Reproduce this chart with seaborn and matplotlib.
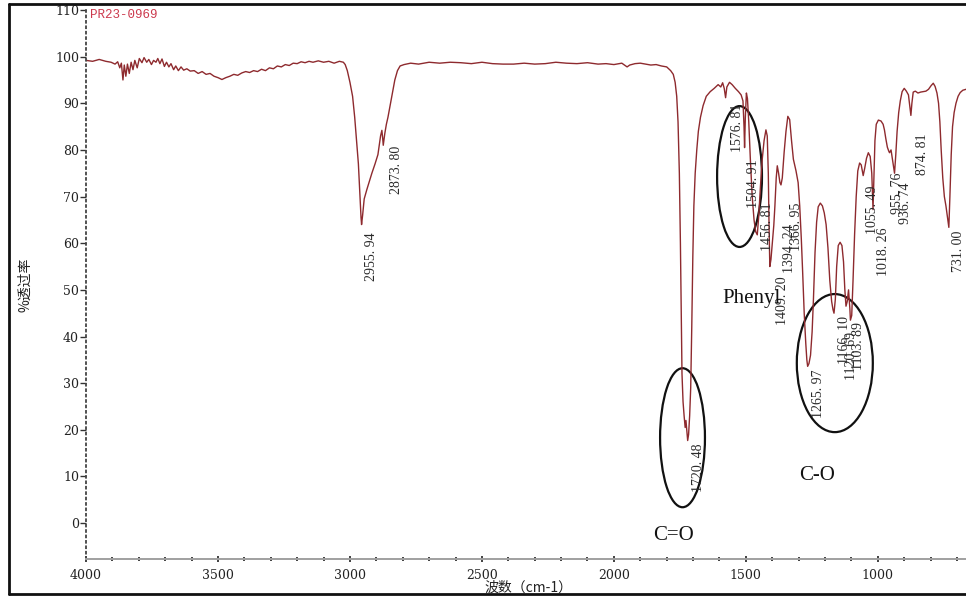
import matplotlib
matplotlib.use("Agg")
import matplotlib.pyplot as plt
from matplotlib.patches import Ellipse
from matplotlib.lines import Line2D
from matplotlib.ticker import MultipleLocator
import seaborn as sns
import pandas as pd

# ---- FTIR spectrum of sample PR23-0969 (wavenumber in cm-1, %T) ----
wavenumber = [
    4000, 3975, 3950, 3925, 3905, 3890, 3880, 3872, 3866, 3860, 3855, 3849,
    3843, 3836, 3829, 3822, 3815, 3806, 3798, 3788, 3780, 3770, 3762, 3752,
    3744, 3735, 3728, 3720, 3712, 3703, 3695, 3686, 3678, 3668, 3660, 3650,
    3640, 3630, 3618, 3605, 3590, 3575, 3560, 3545, 3530, 3515, 3500, 3485,
    3470, 3455, 3440, 3425, 3410, 3395, 3380, 3365, 3350, 3335, 3320, 3305,
    3290, 3275, 3260, 3245, 3230, 3215, 3200, 3185, 3170, 3155, 3140, 3120,
    3100, 3080, 3060, 3040, 3025, 3018, 3010, 3000, 2990, 2982, 2975, 2968,
    2962, 2958, 2955.94, 2952, 2946, 2936, 2925, 2917, 2905, 2894, 2884, 2879,
    2876, 2873.80, 2868, 2862, 2856, 2848, 2840, 2830, 2820, 2810, 2795, 2770,
    2740, 2700, 2660, 2620, 2580, 2540, 2500, 2460, 2420, 2380, 2340, 2300,
    2260, 2220, 2180, 2140, 2100, 2060, 2030, 2000, 1970, 1950, 1940, 1920,
    1900, 1880, 1860, 1840, 1820, 1800, 1785, 1775, 1768, 1762, 1757, 1752,
    1748, 1745, 1742, 1738, 1734, 1730, 1727, 1723, 1720.48, 1717, 1713, 1709,
    1705, 1701, 1697, 1692, 1686, 1680, 1672, 1662, 1650, 1635, 1620, 1605,
    1595, 1588, 1582, 1576.81, 1572, 1562, 1552, 1540, 1528, 1518, 1511, 1507,
    1504.91, 1502, 1498, 1494, 1489, 1483, 1476, 1469, 1463, 1456.81, 1451,
    1445, 1438, 1431, 1424, 1419, 1415, 1412, 1409.20, 1405, 1400, 1394.24,
    1390, 1385, 1381, 1376, 1371, 1366.95, 1362, 1355, 1348, 1341, 1334, 1327,
    1320, 1310, 1302, 1296, 1290, 1285, 1279, 1273, 1269, 1265.97, 1261, 1255,
    1249, 1244, 1238, 1232, 1226, 1218, 1210, 1203, 1196, 1189, 1182, 1175,
    1170, 1166.10, 1161, 1156, 1150, 1143, 1136, 1130, 1125, 1120.69, 1116,
    1111, 1106, 1103.89, 1099, 1094, 1088, 1082, 1076, 1069, 1063, 1058,
    1055.49, 1050, 1043, 1036, 1029, 1023, 1018.26, 1015, 1011, 1006, 998,
    988, 980, 975, 970, 964, 959, 955.76, 950, 944, 936.74, 932, 927, 921,
    915, 908, 900, 892, 884, 878, 874.81, 871, 866, 858, 848, 838, 828, 818,
    808, 798, 790, 783, 776, 770, 765, 760, 754, 748, 742, 736, 731.00, 727,
    722, 717, 711, 704, 696, 688, 678, 666,
]

transmittance = [
    99.2, 99.0, 99.4, 99.0, 98.8, 98.4, 98.9, 97.6, 98.6, 95.0, 98.2, 95.8,
    98.4, 96.4, 98.8, 97.2, 99.2, 97.6, 99.6, 98.7, 99.8, 98.8, 99.4, 98.3,
    99.2, 98.8, 99.6, 98.5, 99.5, 97.9, 98.8, 97.8, 98.5, 97.2, 98.0, 97.0,
    97.8, 97.1, 97.4, 96.9, 97.0, 96.4, 96.8, 96.2, 96.4, 95.8, 95.5, 95.1,
    95.5, 95.8, 96.2, 96.0, 96.5, 96.8, 96.6, 97.0, 96.8, 97.3, 97.0, 97.6,
    97.4, 98.0, 97.8, 98.3, 98.1, 98.6, 98.5, 98.9, 98.7, 99.0, 98.8, 99.1,
    98.8, 99.0, 98.6, 99.0, 98.8, 98.3, 97.0, 94.5, 91.5, 87.0, 82.0, 77.0,
    70.0, 65.5, 64.0, 66.0, 69.5, 71.5, 73.5, 75.0, 77.0, 79.0, 83.0, 84.2,
    82.5, 81.0, 83.5, 85.5, 87.0, 89.5, 92.0, 95.0, 97.0, 98.0, 98.3, 98.6,
    98.4, 98.8, 98.6, 98.8, 98.7, 98.5, 98.8, 98.5, 98.4, 98.4, 98.6, 98.4,
    98.5, 98.8, 98.6, 98.5, 98.7, 98.4, 98.5, 98.3, 98.6, 97.8, 98.2, 98.5,
    98.6, 98.4, 98.2, 98.3, 98.0, 97.8, 97.0, 96.2, 94.5, 91.5, 86.0, 75.0,
    60.0, 45.0, 32.0, 26.0, 23.0, 20.5, 22.0, 19.5, 17.7, 19.0, 23.0, 29.0,
    42.0, 57.0, 68.0, 75.0, 80.0, 84.0, 87.0, 89.5, 91.5, 92.5, 93.2, 94.0,
    93.5, 94.4, 93.2, 91.2, 93.5, 94.5, 94.0, 93.2, 92.5, 91.8, 90.5, 85.0,
    80.5, 87.0, 92.2, 91.0, 86.0, 78.0, 70.0, 65.0, 62.5, 61.8, 66.0,
    72.0, 78.0, 82.0, 84.3, 83.0, 75.0, 63.0, 55.0, 56.5, 60.0, 63.8,
    68.0, 74.0, 76.6, 75.0, 73.0, 72.5, 74.0, 79.5, 84.0, 87.2, 86.5, 82.0,
    78.0, 75.5, 73.0, 68.0, 61.0, 54.0, 45.0, 38.5, 35.0, 33.6, 34.2, 36.0,
    41.0, 48.0, 58.0, 64.5, 67.8, 68.6, 68.0, 66.5, 64.0, 59.0, 52.0, 47.5,
    45.8, 45.0, 48.0, 55.0, 59.5, 60.2, 59.5, 56.0, 50.0, 46.5, 47.5,
    50.0, 46.0, 43.5, 44.5, 52.0, 62.0, 70.0, 75.5, 77.2, 76.8, 75.2,
    74.5, 76.0, 78.2, 79.4, 78.6, 75.0, 67.2, 74.0, 82.0, 85.5, 86.4,
    86.2, 85.5, 84.3, 82.5, 80.6, 79.8, 79.4, 80.0, 77.8, 75.0, 79.0, 84.0, 88.0,
    90.5, 92.5, 93.2, 92.6, 91.8, 89.0, 87.4, 90.0, 92.4, 92.6, 92.2, 92.4, 92.5, 92.6,
    93.0, 93.8, 94.3, 93.6, 92.2, 90.0, 86.0, 80.0, 74.0, 70.0, 68.0, 65.5, 63.4, 70.0,
    79.0, 85.0, 88.0, 90.0, 91.5, 92.3, 92.8, 93.0,
]

# Picked peaks and where their vertical labels sit (wavenumber, %T of label top)
peak_wn = [2955.94, 2873.80, 1720.48, 1576.81, 1504.91, 1456.81, 1409.20,
           1394.24, 1366.95, 1265.97, 1166.10, 1120.69, 1103.89, 1055.49,
           1018.26, 955.76, 936.74, 874.81, 731.00]
label_x = [2917, 2822, 1678, 1530, 1470, 1417, 1360, 1333, 1307, 1223,
           1125, 1098, 1072, 1019, 977, 924, 894, 829, 693]
label_y = [62.3, 80.9, 17.0, 90.0, 77.9, 68.7, 52.8, 64.0, 68.7, 33.0,
           44.3, 41.1, 43.2, 72.3, 63.4, 75.1, 73.0, 83.6, 62.8]

# Band-assignment ellipses: (centre wn, centre %T, width in cm-1, height in %T)
group_names = ["C=O", "Phenyl", "C-O"]
group_ellipse_x = [1740, 1524, 1163]
group_ellipse_y = [18.3, 74.3, 34.3]
group_ellipse_w = [170, 170, 288]
group_ellipse_h = [29.8, 30.2, 29.6]
group_text_x = [1776, 1477, 1231]
group_text_y = [-2.6, 48.1, 10.2]

y_ticks = list(range(0, 111, 10))
x_ticks = [4000, 3500, 3000, 2500, 2000, 1500, 1000]

spectrum = pd.DataFrame({"wn": wavenumber, "T": transmittance})

sns.set_theme(style="white")
plt.rcParams["font.family"] = ["DejaVu Serif", "Noto Sans CJK SC"]

W, H = 966, 602
fig = plt.figure(figsize=(W / 100, H / 100), dpi=100)
fig.patch.set_facecolor("white")
ax = fig.add_axes([86 / W, (H - 559) / H, (W - 86) / W, (559 - 10) / H])
ax.set_facecolor("white")

sns.lineplot(data=spectrum, x="wn", y="T", ax=ax, color="#8e2a2e",
             linewidth=1.0, estimator=None, sort=False)

ax.set_xlim(4000, 666)
ax.set_ylim(-7.7, 110)
ax.set_xticks(x_ticks)
ax.set_xticklabels([str(v) for v in x_ticks])
ax.set_yticks(y_ticks)
ax.set_yticklabels([str(v) for v in y_ticks])
ax.xaxis.set_minor_locator(MultipleLocator(100))
ax.set_xlabel("")
ax.set_ylabel("")

for side in ("top", "right"):
    ax.spines[side].set_visible(False)
ax.spines["left"].set_linestyle((0, (1, 2)))
ax.spines["left"].set_color("#444444")
ax.spines["left"].set_linewidth(1.3)
ax.spines["bottom"].set_color("#a0a0a0")
ax.spines["bottom"].set_linewidth(1.4)

ax.tick_params(axis="y", which="major", direction="out", length=4, width=1,
               color="#333333", labelsize=9, labelcolor="#222222", pad=1,
               left=True)
ax.tick_params(axis="x", which="major", direction="inout", length=4, width=1.3,
               color="#333333", labelsize=9, labelcolor="#222222", pad=5,
               bottom=True)
ax.tick_params(axis="x", which="minor", direction="inout", length=3, width=1.3,
               color="#333333", bottom=True)

# sample id
ax.text(3985, 109, "PR23-0969", color="#cc3a4e", fontsize=9,
        family="Liberation Mono", va="center", ha="left")

# peak labels, read bottom-to-top under each band
for wn, lx, ly in zip(peak_wn, label_x, label_y):
    txt = f"{wn:.2f}".replace(".", ". ")
    ax.text(lx, ly, txt, rotation=90, ha="center", va="top", fontsize=10,
            family="Liberation Serif", color="#2a2a2a")

# functional-group ellipses and names
for name, ex, ey, ew, eh, tx, ty in zip(group_names, group_ellipse_x,
                                         group_ellipse_y, group_ellipse_w,
                                         group_ellipse_h, group_text_x,
                                         group_text_y):
    ax.add_patch(Ellipse((ex, ey), ew, eh, fill=False, edgecolor="#111111",
                         linewidth=1.6))
    ax.text(tx, ty, name, fontsize=15, family="Liberation Serif",
            color="#111111", ha="center", va="center")

# axis titles
fig.text(25 / W, 1 - 285 / H, "%透过率", rotation=90, ha="center", va="center",
         fontsize=10, family=["Noto Sans CJK SC", "DejaVu Sans"], color="#222222")
fig.text(528 / W, 1 - 588 / H, "波数（cm-1）", ha="center", va="center",
         fontsize=10, family=["Noto Sans CJK SC", "DejaVu Sans"], color="#222222")

# printed page frame
frame_kw = dict(transform=fig.transFigure, color="#111111", linewidth=2)
fig.add_artist(Line2D([9 / W, 9 / W], [1 - 4 / H, 1 - 594 / H], **frame_kw))
fig.add_artist(Line2D([9 / W, 1], [1 - 4 / H, 1 - 4 / H], **frame_kw))
fig.add_artist(Line2D([9 / W, 1], [1 - 594 / H, 1 - 594 / H], **frame_kw))

fig.savefig("out.png", dpi=100, facecolor="white")
